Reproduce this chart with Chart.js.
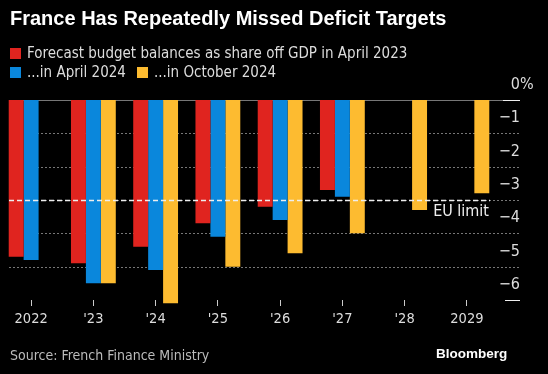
<!DOCTYPE html>
<html>
<head>
<meta charset="utf-8">
<script src="https://cdn.jsdelivr.net/npm/chart.js@4.4.0/dist/chart.umd.min.js"></script>
<style>
  html, body { margin: 0; padding: 0; background: #000; }
  #wrap { position: relative; width: 548px; height: 374px; overflow: hidden; background: #000; }
  #chart { position: absolute; left: 0; top: 0; }
  .txt { position: absolute; white-space: nowrap; font-family: "Liberation Sans Narrow", "DejaVu Sans Condensed", "Roboto", sans-serif; }
  #title { left: 10px; top: 5px; font-family: "Liberation Sans", "Roboto", sans-serif; font-weight: bold; font-size: 20px; color: #fff; line-height: 26px; }
  .leg { font-size: 15px; color: #ddd; line-height: 18px; }
  .sw { display: inline-block; width: 11px; height: 11px; margin-right: 6px; vertical-align: -1px; }
  #source { left: 10px; top: 346px; font-size: 14px; color: #bbb; line-height: 18px; }
  #brand { left: 436px; top: 345px; font-family: "Liberation Sans", "Roboto", sans-serif; font-weight: bold; font-size: 13.5px; color: #fff; line-height: 18px; }
</style>
</head>
<body>
<div id="wrap">
  <canvas id="chart" width="548" height="374"></canvas>
  <div class="txt" id="title">France Has Repeatedly Missed Deficit Targets</div>
  <div class="txt leg" style="left:10px; top:44px;"><span class="sw" style="background:#e0241f"></span>Forecast budget balances as share off GDP in April 2023</div>
  <div class="txt leg" style="left:10px; top:63px;"><span class="sw" style="background:#0a87dc"></span>...in April 2024</div>
  <div class="txt leg" style="left:137px; top:63px;"><span class="sw" style="background:#fdbb30"></span>...in October 2024</div>
  <div class="txt" id="source">Source: French Finance Ministry</div>
  <div class="txt" id="brand">Bloomberg</div>
</div>
<script>
// data (% of GDP)
const years = ['2022', "'23", "'24", "'25", "'26", "'27", "'28", '2029'];
const april2023 = [-4.7, -4.9, -4.4, -3.7, -3.2, -2.7, null, null];
const april2024 = [-4.8, -5.5, -5.1, -4.1, -3.6, -2.9, null, null];
const october2024 = [null, -5.5, -6.1, -5.0, -4.6, -4.0, -3.3, -2.8];
const euLimit = -3;

const narrow = '"Liberation Sans Narrow", "DejaVu Sans Condensed", "Roboto", sans-serif';

// gridlines, right-side labels and the EU limit line, placed from the y scale
const overlay = {
    id: 'overlay',
    beforeDatasetsDraw(chart) {
        const ctx = chart.ctx;
        const y = chart.scales.y;
        const x0 = 9, x1 = 520;
        ctx.save();
        y.ticks.forEach(t => {
            const py = Math.round(y.getPixelForValue(t.value)) + 0.5;
            if (t.value === 0) {
                ctx.strokeStyle = '#777';
                ctx.setLineDash([]);
                ctx.beginPath(); ctx.moveTo(x0, py); ctx.lineTo(503, py); ctx.stroke();
                ctx.strokeStyle = '#eee';
                ctx.beginPath(); ctx.moveTo(503, py); ctx.lineTo(x1, py); ctx.stroke();
            } else if (t.value === y.min) {
                ctx.strokeStyle = '#eee';
                ctx.setLineDash([]);
                ctx.beginPath(); ctx.moveTo(505, py); ctx.lineTo(x1, py); ctx.stroke();
            } else {
                ctx.strokeStyle = '#777';
                ctx.setLineDash([2, 2]);
                ctx.beginPath(); ctx.moveTo(x0, py); ctx.lineTo(x1, py); ctx.stroke();
            }
        });
        ctx.setLineDash([]);
        ctx.font = '16px ' + narrow;
        ctx.fillStyle = '#ddd';
        ctx.textBaseline = 'middle';
        y.ticks.forEach(t => {
            const py = y.getPixelForValue(t.value) - 15;
            ctx.textAlign = 'right';
            const s = t.value === 0 ? '0' : '\u2212' + Math.abs(t.value);
            ctx.fillText(s, x1, py);
            if (t.value === 0) {
                ctx.textAlign = 'left';
                ctx.fillText('%', x1, py);
            }
        });
        ctx.restore();
    },
    afterDatasetsDraw(chart) {
        const ctx = chart.ctx;
        const py = Math.round(chart.scales.y.getPixelForValue(euLimit)) + 0.5;
        ctx.save();
        ctx.strokeStyle = '#eee';
        ctx.lineWidth = 1.5;
        ctx.setLineDash([5, 3]);
        ctx.beginPath(); ctx.moveTo(9, py); ctx.lineTo(490, py); ctx.stroke();
        ctx.setLineDash([]);
        ctx.font = '16px ' + narrow;
        ctx.fillStyle = '#eee';
        ctx.textAlign = 'right';
        ctx.textBaseline = 'middle';
        ctx.fillText('EU limit', 489, py + 11);
        ctx.restore();
    }
};

function barSet(label, data, color) {
    return {
        label: label,
        data: data,
        backgroundColor: color,
        borderWidth: 0,
        clip: false,
        categoryPercentage: 0.72,
        barPercentage: 1.0
    };
}

new Chart(document.getElementById('chart'), {
    type: 'bar',
    data: {
        labels: years,
        datasets: [
            barSet('Forecast budget balances as share off GDP in April 2023', april2023, '#e0241f'),
            barSet('...in April 2024', april2024, '#0a87dc'),
            barSet('...in October 2024', october2024, '#fdbb30')
        ]
    },
    options: {
        responsive: false,
        animation: false,
        layout: { padding: { top: 100, bottom: 34, left: 0, right: 50 } },
        plugins: {
            legend: { display: false },
            tooltip: { enabled: false }
        },
        scales: {
            x: {
                grid: { display: true, drawOnChartArea: false, drawTicks: true, tickLength: 6, offset: false, color: '#ccc', tickColor: '#ccc' },
                border: { display: false },
                ticks: { color: '#ddd', font: { family: narrow, size: 14.5 }, padding: 5, maxRotation: 0, autoSkip: false },
                afterFit(scale) { scale.height = 40; }
            },
            y: {
                display: false,
                min: -6,
                max: 0,
                ticks: { stepSize: 1 }
            }
        }
    },
    plugins: [overlay]
});
</script>
</body>
</html>
